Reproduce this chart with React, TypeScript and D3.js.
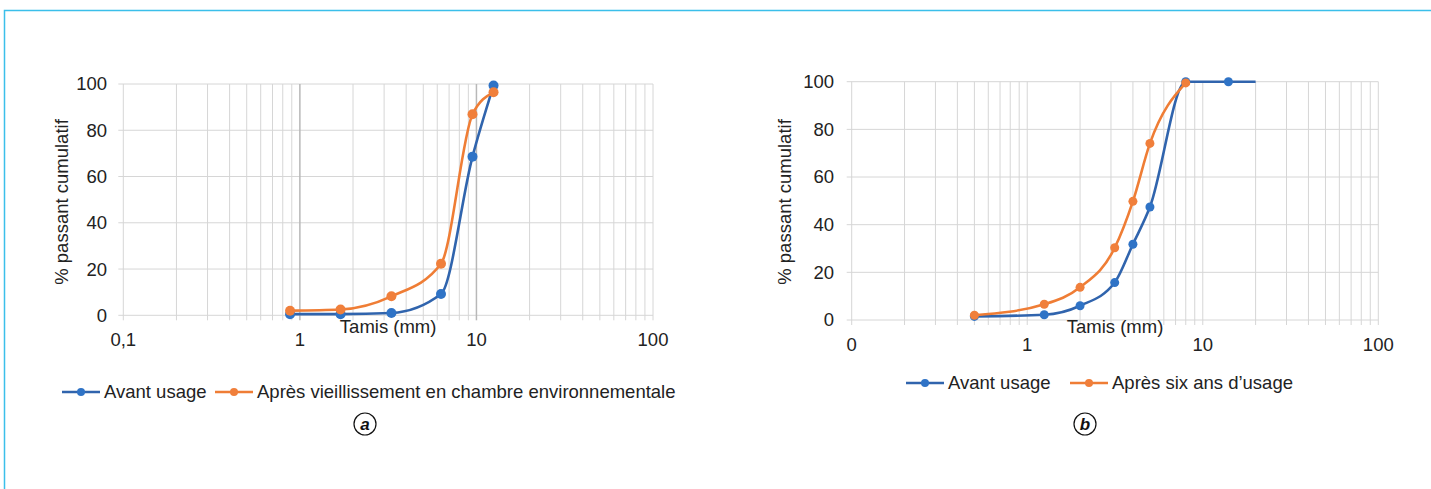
import React from 'react';
import * as d3 from 'd3';

// sieve sizes (mm) and % passing, chart a
const tamisA = [0.88, 1.7, 3.3, 6.3, 9.5, 12.5];
const avantA = [0.5, 0.5, 1.0, 9.2, 68.6, 99.3];
const apresA = [2.0, 2.5, 8.2, 22.3, 86.9, 96.4];

// chart b
const tamisAvantB = [0.5, 1.25, 2, 3.15, 4, 5, 8, 14, 20];
const avantB = [1.5, 2.2, 6.0, 15.7, 31.8, 47.4, 100, 100, 100];
const tamisApresB = [0.5, 1.25, 2, 3.15, 4, 5, 8];
const apresB = [2.0, 6.6, 13.7, 30.3, 49.8, 74.1, 99.5];

const xMajor = [0.1, 1, 10, 100];
const xLabelsA = ['0,1', '1', '10', '100'];
const xLabelsB = ['0', '1', '10', '100'];
const yTicks = [0, 20, 40, 60, 80, 100];

const legendA = ['Avant usage', 'Après vieillissement en chambre environnementale'];
const legendB = ['Avant usage', 'Après six ans d’usage'];

const BLUE_LINE = '#3064ad';
const BLUE_DOT = '#2f73c6';
const ORANGE_LINE = '#ef7d35';
const ORANGE_DOT = '#f07f3b';
const GRID = '#d6d6d6';
const TEXT = '#222';
const FONT = '"Liberation Sans", Arial, sans-serif';
const FS = 18.5;

type Series = { xs: number[]; ys: number[]; line: string; dot: string; noDotLast?: boolean };

function Chart(props: {
  left: number; right: number; top: number; bottom: number;
  labelRight: number; titleX: number; titleY: number;
  xLabels: string[]; darkMajor: boolean; r: number;
  series: Series[];
}) {
  const { left, right, top, bottom } = props;
  const x = d3.scaleLog().domain([0.1, 100]).range([left, right]);
  const y = d3.scaleLinear().domain([0, 100]).range([bottom, top]);
  const line = d3.line<[number, number]>()
    .x(d => x(d[0]))
    .y(d => y(d[1]))
    .curve(d3.curveMonotoneX);
  const cx = (left + right) / 2;

  return (
    <g>
      {yTicks.map(t => (
        <line key={'h' + t} x1={left - 5} x2={right} y1={y(t)} y2={y(t)} stroke={GRID} strokeWidth={1} />
      ))}
      {x.ticks().map(t => {
        const major = props.darkMajor && (t === 1 || t === 10);
        return (
          <line key={'v' + t} x1={x(t)} x2={x(t)} y1={top} y2={bottom + 5}
            stroke={major ? '#b8b8b8' : GRID} strokeWidth={major ? 1.5 : 1} />
        );
      })}
      {yTicks.map(t => (
        <text key={'yl' + t} x={props.labelRight} y={y(t)} dy="0.35em" textAnchor="end"
          fontSize={FS} fill={TEXT}>{t}</text>
      ))}
      {xMajor.map((t, i) => (
        <text key={'xl' + t} x={x(t)} y={bottom + 31} textAnchor="middle" fontSize={FS} fill={TEXT}>
          {props.xLabels[i]}
        </text>
      ))}
      <text x={cx} y={333} textAnchor="middle" fontSize={FS} fill={TEXT}>Tamis (mm)</text>
      <text transform={`translate(${props.titleX},${props.titleY}) rotate(-90)`} dy="0.35em"
        textAnchor="middle" fontSize={FS} fill={TEXT}>% passant cumulatif</text>
      {props.series.map((s, k) => {
        const pts = s.xs.map((v, i) => [v, s.ys[i]] as [number, number]);
        const dots = s.noDotLast ? pts.slice(0, -1) : pts;
        return (
          <g key={'s' + k}>
            <path d={line(pts) || ''} fill="none" stroke={s.line} strokeWidth={2.6} />
            {dots.map((p, i) => (
              <circle key={i} cx={x(p[0])} cy={y(p[1])} r={props.r} fill={s.dot} />
            ))}
          </g>
        );
      })}
    </g>
  );
}

function Legend(props: { x0: number; x1: number; y: number; labels: string[] }) {
  const cols = [[BLUE_LINE, BLUE_DOT], [ORANGE_LINE, ORANGE_DOT]];
  const starts = [props.x0, props.x1];
  return (
    <g>
      {props.labels.map((lab, i) => {
        const s = starts[i];
        return (
          <g key={i}>
            <line x1={s} x2={s + 38} y1={props.y} y2={props.y} stroke={cols[i][0]} strokeWidth={2.6} />
            <circle cx={s + 19} cy={props.y} r={4} fill={cols[i][1]} />
            <text x={s + 42} y={props.y} dy="0.35em" fontSize={FS} fill={TEXT}>{lab}</text>
          </g>
        );
      })}
    </g>
  );
}

function Badge(props: { x: number; y: number; t: string }) {
  return (
    <g>
      <circle cx={props.x} cy={props.y} r={11} fill="none" stroke="#111" strokeWidth={1.2} />
      <text x={props.x} y={props.y} dy="0.36em" textAnchor="middle" fontSize={17}
        fontWeight="bold" fontStyle="italic" fill="#111">{props.t}</text>
    </g>
  );
}

export default function App() {
  return (
    <svg width={1431} height={489} style={{ position: 'absolute', left: 0, top: 0, fontFamily: FONT }}>
      <rect x={0} y={0} width={1431} height={489} fill="#fff" />
      <rect x={4.5} y={10.5} width={1460} height={500} fill="none" stroke="#3bbfea" strokeWidth={1.5} />
      <Chart left={123.3} right={653} top={84} bottom={315.3}
        labelRight={107} titleX={62} titleY={202} xLabels={xLabelsA} darkMajor={true} r={5}
        series={[
          { xs: tamisA, ys: avantA, line: BLUE_LINE, dot: BLUE_DOT },
          { xs: tamisA, ys: apresA, line: ORANGE_LINE, dot: ORANGE_DOT },
        ]} />
      <Chart left={851.7} right={1378.3} top={81.7} bottom={320}
        labelRight={834} titleX={785} titleY={202} xLabels={xLabelsB} darkMajor={false} r={4.5}
        series={[
          { xs: tamisAvantB, ys: avantB, line: BLUE_LINE, dot: BLUE_DOT, noDotLast: true },
          { xs: tamisApresB, ys: apresB, line: ORANGE_LINE, dot: ORANGE_DOT },
        ]} />
      <Legend x0={62} x1={215} y={392} labels={legendA} />
      <Badge x={365} y={424} t="a" />
      <Legend x0={906} x1={1070} y={383} labels={legendB} />
      <Badge x={1085} y={424} t="b" />
    </svg>
  );
}
